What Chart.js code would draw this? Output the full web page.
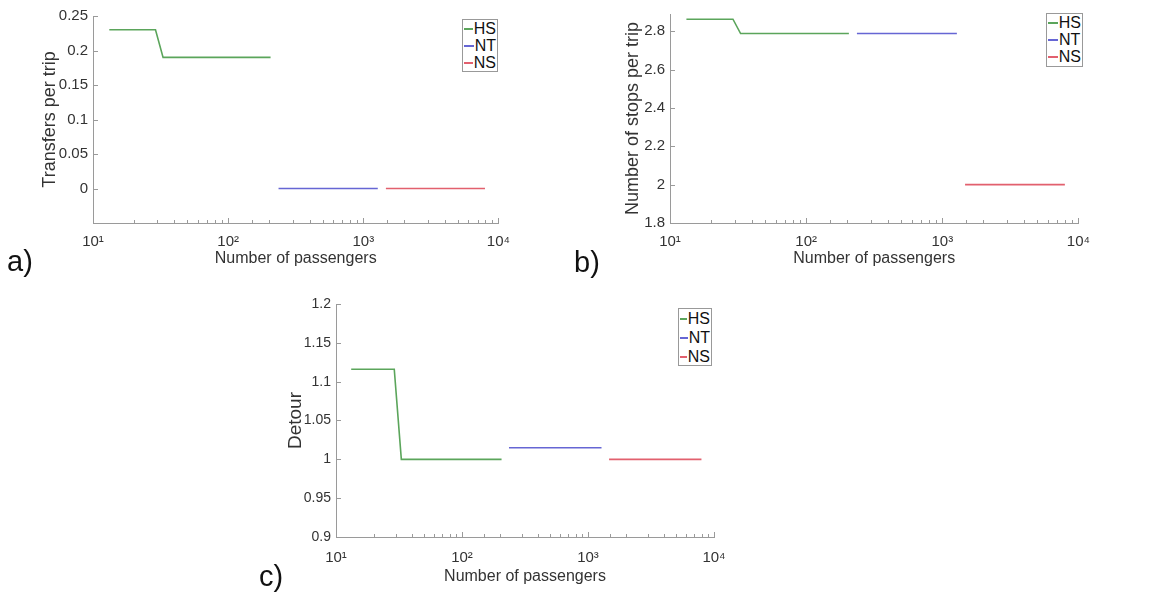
<!DOCTYPE html>
<html lang="en">
<head>
    <meta charset="UTF-8">
    <title>Transfers, stops and detour vs number of passengers</title>
    <script src="https://cdn.jsdelivr.net/npm/chart.js@4.4.3/dist/chart.umd.min.js"></script>
    <style>
        body { margin: 0; background: #fff; width: 1161px; height: 592px; position: relative; overflow: hidden;
               font-family: 'Liberation Sans', Arial, sans-serif; }
        .panel { position: absolute; }
        .tag { position: absolute; font-size: 29px; color: #111; line-height: 1; }
        .legend { position: absolute; border: 1px solid #999; background: #fff; font-size: 16px; color: #111;
                  padding: 0 1px 0 0; box-sizing: border-box; }
        .legend div { display: flex; align-items: center; }
        .legend span.ln { display: inline-block; width: 10px; height: 2px; margin: 0 1px 0 1px; }
    </style>
</head>
<body>
    <div class="panel" style="left:0;top:0"><canvas id="chartA" width="520" height="290"></canvas></div>
    <div class="panel" style="left:580px;top:0"><canvas id="chartB" width="520" height="290"></canvas></div>
    <div class="panel" style="left:230px;top:290px"><canvas id="chartC" width="520" height="302"></canvas></div>

    <div class="tag" style="left:7px;top:247px">a)</div>
    <div class="tag" style="left:574px;top:248px">b)</div>
    <div class="tag" style="left:259px;top:562px">c)</div>

    <div class="legend" id="legA" style="left:462px;top:19px;width:36px;height:53px"></div>
    <div class="legend" id="legB" style="left:1046px;top:13px;width:37px;height:54px"></div>
    <div class="legend" id="legC" style="left:678px;top:308px;width:34px;height:58px"></div>

    <script>
        // Number of passengers where each method's curve is drawn
        const hsPassengers = [13.2, 29, 33, 206];
        const ntPassengers = [236, 1280];
        const nsPassengers = [1470, 7950];

        // a) transfers per trip
        const transfersHS = [0.23, 0.23, 0.19, 0.19];
        const transfersNT = [0, 0];
        const transfersNS = [0, 0];

        // b) number of stops per trip
        const stopsHS = [2.863, 2.863, 2.788, 2.788];
        const stopsNT = [2.788, 2.788];
        const stopsNS = [2.0, 2.0];

        // c) detour
        const detourHS = [1.116, 1.116, 1.0, 1.0];
        const detourNT = [1.015, 1.015];
        const detourNS = [1.0, 1.0];

        const seriesNames = ['HS', 'NT', 'NS'];
        const seriesColors = ['#5ba55b', '#6666d4', '#e2606e'];
        const axisColor = '#9a9a9a';
        const textColor = '#333';
        const superDigits = { 1: '\u00B9', 2: '\u00B2', 3: '\u00B3', 4: '\u2074' };

        const toPoints = (xs, ys) => xs.map((x, i) => ({ x: x, y: ys[i] }));
        const isDecade = v => Math.abs(Math.log10(v) - Math.round(Math.log10(v))) < 1e-9;

        // MATLAB style ticks pointing into the plot
        const innerTicks = {
            id: 'innerTicks',
            afterDraw(chart) {
                const { ctx, chartArea: a, scales: { x, y } } = chart;
                ctx.save();
                ctx.strokeStyle = axisColor;
                ctx.lineWidth = 1;
                ctx.beginPath();
                x.ticks.forEach(t => {
                    const px = Math.round(x.getPixelForValue(t.value)) + 0.5;
                    const len = isDecade(t.value) ? 5 : 3;
                    ctx.moveTo(px, a.bottom);
                    ctx.lineTo(px, a.bottom - len);
                });
                y.ticks.forEach(t => {
                    const py = Math.round(y.getPixelForValue(t.value)) + 0.5;
                    ctx.moveTo(a.left, py);
                    ctx.lineTo(a.left + 5, py);
                });
                ctx.stroke();
                ctx.restore();
            }
        };

        function makeChart(id, cfg) {
            const datasets = cfg.series.map((ys, i) => ({
                label: seriesNames[i],
                data: toPoints([hsPassengers, ntPassengers, nsPassengers][i], ys),
                borderColor: seriesColors[i],
                borderWidth: 1.6,
                pointRadius: 0,
                tension: 0,
                fill: false
            }));
            return new Chart(document.getElementById(id), {
                type: 'line',
                data: { datasets: datasets },
                plugins: [innerTicks],
                options: {
                    responsive: false,
                    animation: false,
                    devicePixelRatio: 1,
                    layout: { padding: cfg.padding },
                    plugins: { legend: { display: false }, tooltip: { enabled: false } },
                    scales: {
                        x: {
                            type: 'logarithmic',
                            min: 10,
                            max: 10000,
                            afterFit: s => { s.height = cfg.xHeight; },
                            grid: { drawOnChartArea: false, drawTicks: false },
                            border: { display: true, color: axisColor, width: 1 },
                            ticks: {
                                autoSkip: false,
                                maxRotation: 0,
                                padding: cfg.xTickPad,
                                color: textColor,
                                font: { family: 'Liberation Sans', size: 15 },
                                callback: v => isDecade(v) ? '10' + superDigits[Math.round(Math.log10(v))] : ''
                            },
                            title: {
                                display: true,
                                text: 'Number of passengers',
                                color: textColor,
                                font: { family: 'Liberation Sans', size: 16 },
                                padding: { top: 0, bottom: cfg.xTitlePad }
                            }
                        },
                        y: {
                            min: cfg.yMin,
                            max: cfg.yMax,
                            afterFit: s => { s.width = cfg.yWidth; },
                            grid: { drawOnChartArea: false, drawTicks: false },
                            border: { display: true, color: axisColor, width: 1 },
                            ticks: {
                                stepSize: cfg.yStep,
                                includeBounds: false,
                                padding: 5,
                                color: textColor,
                                font: { family: 'Liberation Sans', size: cfg.yTickSize },
                                callback: v => (cfg.hideBelow !== undefined && v < cfg.hideBelow) ? '' : String(Number(v.toFixed(2)))
                            },
                            title: {
                                display: true,
                                text: cfg.yTitle,
                                color: textColor,
                                font: { family: 'Liberation Sans', size: cfg.yTitleSize },
                                padding: { top: cfg.yTitlePad, bottom: 0 }
                            }
                        }
                    }
                }
            });
        }

        makeChart('chartA', {
            series: [transfersHS, transfersNT, transfersNS],
            yMin: -0.05, yMax: 0.25, yStep: 0.05, hideBelow: -0.01,
            yTitle: 'Transfers per trip', yTitleSize: 18, yTickSize: 15,
            padding: { left: 0, top: 16, right: 19, bottom: 0 },
            yWidth: 93, xHeight: 67, xTickPad: 10, xTitlePad: 22, yTitlePad: 39
        });

        makeChart('chartB', {
            series: [stopsHS, stopsNT, stopsNS],
            yMin: 1.8, yMax: 2.89, yStep: 0.2,
            yTitle: 'Number of stops per trip', yTitleSize: 18, yTickSize: 15,
            padding: { left: 0, top: 11, right: 14, bottom: 0 },
            yWidth: 90, xHeight: 67, xTickPad: 10, xTitlePad: 22, yTitlePad: 42
        });

        makeChart('chartC', {
            series: [detourHS, detourNT, detourNS],
            yMin: 0.9, yMax: 1.2, yStep: 0.05,
            yTitle: 'Detour', yTitleSize: 19, yTickSize: 14,
            padding: { left: 0, top: 14, right: 36, bottom: 0 },
            yWidth: 106, xHeight: 55, xTickPad: 12, xTitlePad: 6, yTitlePad: 54
        });

        // legends in the top right corner of each plot
        function fillLegend(id, rowHeight) {
            const box = document.getElementById(id);
            seriesNames.forEach((name, i) => {
                const row = document.createElement('div');
                row.style.height = rowHeight + 'px';
                const ln = document.createElement('span');
                ln.className = 'ln';
                ln.style.background = seriesColors[i];
                row.appendChild(ln);
                row.appendChild(document.createTextNode(name));
                box.appendChild(row);
            });
        }
        fillLegend('legA', 17);
        fillLegend('legB', 17);
        fillLegend('legC', 19);
    </script>
</body>
</html>
